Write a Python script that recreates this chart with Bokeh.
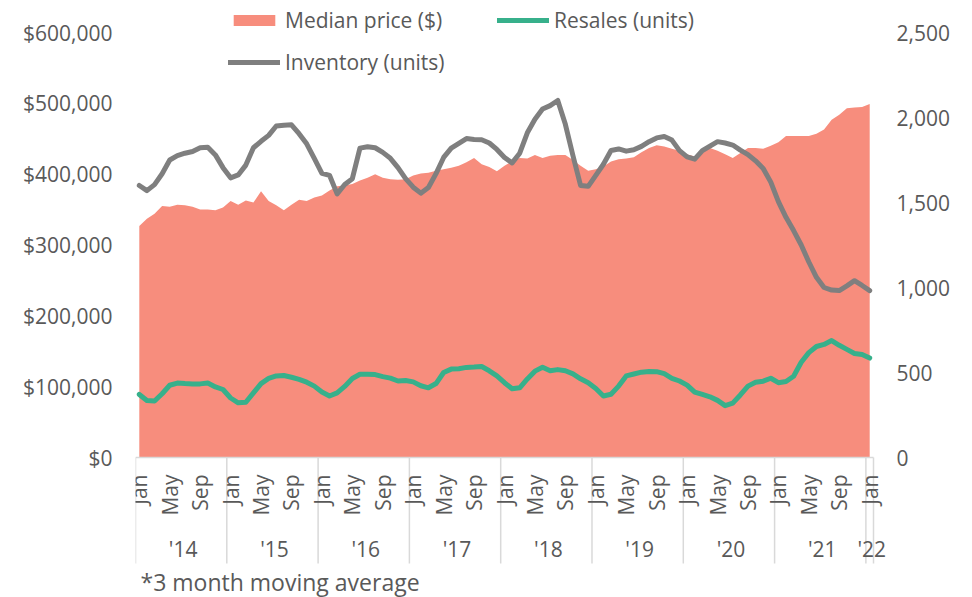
import math
from bokeh.plotting import figure
from bokeh.models import (Range1d, LinearAxis, FixedTicker, NumeralTickFormatter,
                          Legend, LegendItem, ColumnDataSource)
from bokeh.core.properties import value
from bokeh.embed import file_html
from bokeh.resources import INLINE

# ---------------- data ----------------
month_names = ["Jan", "Feb", "Mar", "Apr", "May", "Jun",
               "Jul", "Aug", "Sep", "Oct", "Nov", "Dec"]
shown_months = ["Jan", "May", "Sep"]
year_labels = ["'14", "'15", "'16", "'17", "'18", "'19", "'20", "'21", "'22"]

median_price = [
    327000, 337000, 344000, 355000, 354000, 357000, 356000, 354000, 350000, 350000, 349000, 353000,
    362000, 357000, 363000, 360000, 376000, 362000, 356000, 349000, 357000, 364000, 362000, 367000,
    370000, 377000, 383000, 384000, 386000, 391000, 395000, 400000, 395000, 393000, 392000, 393000,
    398000, 401000, 402000, 405000, 407000, 409000, 412000, 417000, 423000, 414000, 410000, 404000,
    412000, 418000, 423000, 422000, 427000, 423000, 426000, 427000, 427000, 420000, 412000, 405000,
    407000, 411000, 418000, 421000, 422000, 424000, 431000, 437000, 441000, 439000, 436000, 433000,
    428000, 425000, 434000, 437000, 433000, 428000, 423000, 430000, 437000, 437000, 436000, 440000,
    445000, 454000, 454000, 454000, 454000, 457000, 463000, 477000, 484000, 493000, 494000, 495000,
    499000,
]

resales = [
    371, 335, 332, 375, 425, 438, 435, 433, 433, 438, 415, 400,
    350, 322, 325, 380, 435, 465, 480, 482, 472, 460, 443, 420,
    385, 362, 380, 418, 465, 490, 490, 488, 476, 467, 450, 453,
    445, 422, 410, 435, 500, 520, 522, 530, 532, 535, 510, 480,
    440, 404, 410, 462, 508, 531, 510, 517, 510, 492, 463, 440,
    406, 362, 372, 420, 480, 491, 502, 506, 505, 493, 466, 450,
    426, 385, 371, 357, 336, 305, 320, 368, 420, 443, 449, 466,
    440, 447, 478, 560, 617, 653, 665, 688, 660, 636, 612, 606,
    585,
]

inventory = [
    1600, 1570, 1605, 1669, 1750, 1776, 1790, 1800, 1822, 1825, 1780, 1705,
    1645, 1662, 1720, 1822, 1860, 1895, 1950, 1955, 1957, 1905, 1845, 1760,
    1672, 1660, 1551, 1606, 1640, 1820, 1828, 1822, 1795, 1760, 1705, 1640,
    1590, 1555, 1588, 1670, 1765, 1820, 1848, 1876, 1870, 1869, 1850, 1812,
    1765, 1733, 1790, 1910, 1990, 2050, 2070, 2100, 1960, 1775, 1600, 1595,
    1660, 1725, 1806, 1815, 1802, 1810, 1830, 1858, 1880, 1888, 1867, 1805,
    1768, 1755, 1805, 1832, 1858, 1850, 1838, 1808, 1782, 1745, 1700, 1620,
    1505, 1413, 1335, 1250, 1150, 1060, 1000, 985, 982, 1010, 1040, 1012,
    982,
]

left_ticks = [0, 100000, 200000, 300000, 400000, 500000, 600000]
right_ticks = [0, 500, 1000, 1500, 2000, 2500]
footnote = "*3 month moving average"

# ---------------- layout (pixels) ----------------
W, H = 972, 597
CAT_L, CAT_R = 135, 873          # category axis extent
FRAME_R = 890                    # frame right edge (room for last year label)
ZERO_PX = 457                    # pixel row of value 0
TOPTICK_PX = 32                  # pixel row of the top tick
left_per_px = left_ticks[-1] / (ZERO_PX - TOPTICK_PX)
right_per_px = right_ticks[-1] / (ZERO_PX - TOPTICK_PX)

n = len(median_price)
idx = list(range(n))
month_px = (CAT_R - CAT_L) / n
x_end = n - 0.5 + (FRAME_R - CAT_R) / month_px


def ly(px):
    return (ZERO_PX - px) * left_per_px


FONT = "Open Sans"
TXT = "#595959"
FS = "21px"
AREA_C = "#F78D7D"
TEAL = "#37B08B"
GRAY = "#7F7F7F"
DIV_C = "#D9D9D9"

p = figure(width=W, height=H, output_backend="svg", toolbar_location=None,
           x_range=Range1d(-0.5, x_end),
           y_range=Range1d(ly(H), ly(0)),
           x_axis_location=None,
           min_border_left=CAT_L, min_border_right=W - FRAME_R,
           min_border_top=0, min_border_bottom=0)
p.outline_line_color = None
p.xgrid.visible = False
p.ygrid.visible = False
p.background_fill_color = None
p.border_fill_color = None

p.extra_y_ranges = {"units": Range1d((ZERO_PX - H) * right_per_px, ZERO_PX * right_per_px)}

# left axis
ya = p.yaxis[0]
ya.ticker = FixedTicker(ticks=left_ticks)
ya.formatter = NumeralTickFormatter(format="$0,0")
ya.axis_line_color = None
ya.major_tick_line_color = None
ya.minor_tick_line_color = None
ya.major_tick_out = 0
ya.major_tick_in = 0
ya.minor_tick_out = 0
ya.major_label_standoff = 23
ya.major_label_text_font = FONT
ya.major_label_text_font_size = FS
ya.major_label_text_color = TXT

# right axis
ra = LinearAxis(y_range_name="units", ticker=FixedTicker(ticks=right_ticks),
                formatter=NumeralTickFormatter(format="0,0"))
ra.axis_line_color = None
ra.major_tick_line_color = None
ra.minor_tick_line_color = None
ra.major_tick_out = 0
ra.major_tick_in = 0
ra.minor_tick_out = 0
ra.major_label_standoff = 896 - FRAME_R
ra.major_label_text_font = FONT
ra.major_label_text_font_size = FS
ra.major_label_text_color = TXT
p.add_layout(ra, "right")

src = ColumnDataSource(dict(x=idx, price=median_price, resales=resales, inventory=inventory))

area = p.varea(x="x", y1=0, y2="price", source=src, fill_color=AREA_C)

# category axis line
p.segment(x0=[-0.5], x1=[n - 0.5], y0=[0], y1=[0], line_color=DIV_C, line_width=1.5)

inv = p.line("x", "inventory", source=src, y_range_name="units",
             line_color=GRAY, line_width=5, line_join="round", line_cap="round")
res = p.line("x", "resales", source=src, y_range_name="units",
             line_color=TEAL, line_width=5, line_join="round", line_cap="round")

# category dividers (year boundaries)
bounds = [-0.5 + 12 * k for k in range(len(year_labels))] + [n - 0.5]
p.segment(x0=bounds, x1=bounds, y0=[0] * len(bounds), y1=[ly(563)] * len(bounds),
          line_color=DIV_C, line_width=1.5)

# month labels
mx = [i for i in idx if month_names[i % 12] in shown_months]
mt = [month_names[i % 12] for i in mx]
p.text(x=mx, y=[ly(474)] * len(mx), text=mt, angle=math.pi / 2,
       text_align="right", text_baseline="middle",
       text_font=value(FONT), text_font_size=FS, text_color=TXT)

# year labels
yx = [(12 * k + min(12 * k + 11, n - 1)) / 2 for k in range(len(year_labels))]
p.text(x=yx, y=[ly(548)] * len(yx), text=year_labels, x_offset=2,
       text_align="center", text_baseline="middle",
       text_font=value(FONT), text_font_size=FS, text_color=TXT)

# footnote
p.text(x=[-0.5], y=[ly(581)], text=[footnote], x_offset=5,
       text_align="left", text_baseline="middle",
       text_font=value(FONT), text_font_size="23px", text_color=TXT)

legend = Legend(items=[LegendItem(label="Median price ($)", renderers=[area]),
                       LegendItem(label="Resales (units)", renderers=[res]),
                       LegendItem(label="Inventory (units)", renderers=[inv])],
                orientation="horizontal", ncols=2,
                location=(228 - CAT_L, H - 77),
                glyph_width=52, glyph_height=14, label_standoff=5,
                label_width=200, label_height=30, spacing=12,
                padding=0, margin=0,
                border_line_color=None, background_fill_alpha=0,
                label_text_font=FONT, label_text_font_size=FS,
                label_text_color=TXT)
p.add_layout(legend)

open("out.html", "w").write(file_html(p, INLINE))
